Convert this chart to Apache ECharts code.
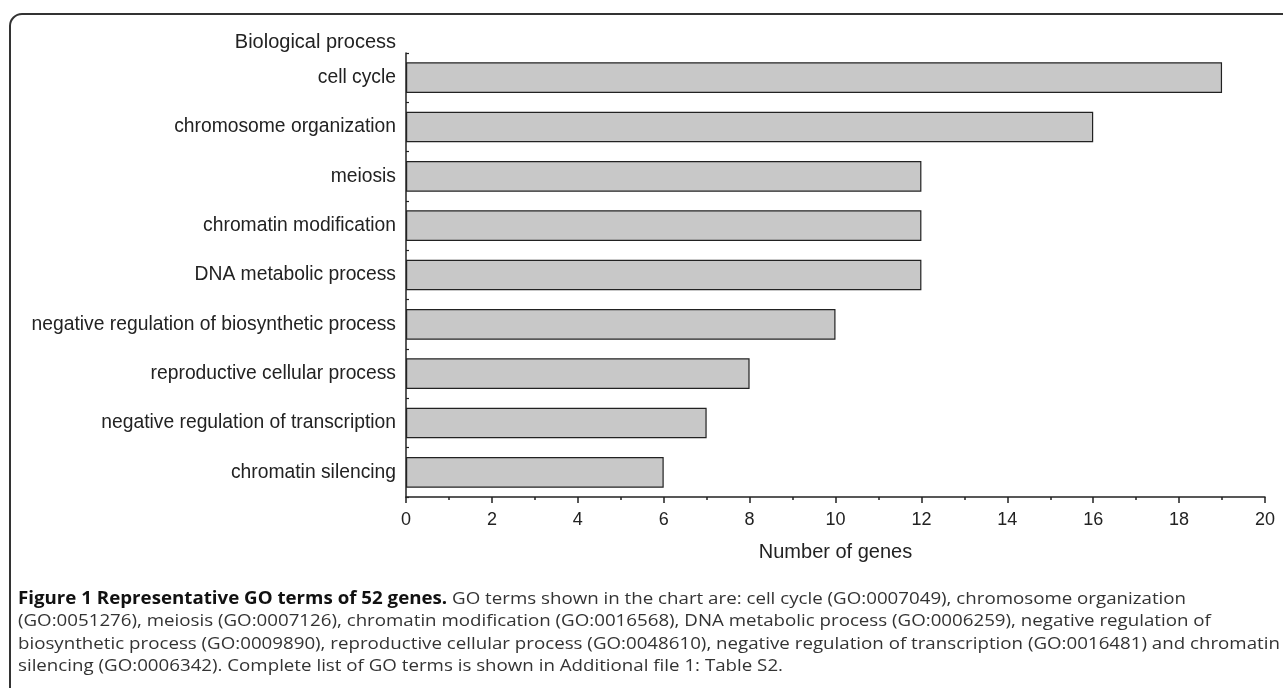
<!DOCTYPE html>
<html>
<head>
<meta charset="utf-8">
<script src="https://cdn.jsdelivr.net/npm/echarts@6/dist/echarts.min.js"></script>
<style>html,body{margin:0;padding:0;background:#fff;}#c{width:1283px;height:688px;}</style>
</head>
<body>
<div id="c"></div>
<script>
const categories = [
  "cell cycle",
  "chromosome organization",
  "meiosis",
  "chromatin modification",
  "DNA metabolic process",
  "negative regulation of biosynthetic process",
  "reproductive cellular process",
  "negative regulation of transcription",
  "chromatin silencing"
];
const geneCounts = [19, 16, 12, 12, 12, 10, 8, 7, 6];
const xTicks = [0, 2, 4, 6, 8, 10, 12, 14, 16, 18, 20];
const yAxisTitle = "Biological process";
const xAxisTitle = "Number of genes";
const captionBold = "Figure 1 Representative GO terms of 52 genes.";
const captionLines = [
  " GO terms shown in the chart are: cell cycle (GO:0007049), chromosome organization",
  "(GO:0051276), meiosis (GO:0007126), chromatin modification (GO:0016568), DNA metabolic process (GO:0006259), negative regulation of",
  "biosynthetic process (GO:0009890), reproductive cellular process (GO:0048610), negative regulation of transcription (GO:0016481) and chromatin",
  "silencing (GO:0006342). Complete list of GO terms is shown in Additional file 1: Table S2."
];

const chart = echarts.init(document.getElementById('c'));
const capFont = '"Open Sans", sans-serif';
const capSize = 17;
// horizontal squeeze/stretch of the caption font to approximate the original typeface width
const meas = document.createElement('canvas').getContext('2d');
meas.font = capSize + 'px "Open Sans"';
const capScale = 765 / meas.measureText(captionLines[3]).width;
const capY = [599, 621, 644, 666];
const labelFont = '"Liberation Sans", Arial, sans-serif';
const graphics = [
  {type:'rect', shape:{x:10, y:14, width:1300, height:720, r:12}, style:{fill:'none', stroke:'#333', lineWidth:2}, silent:true},
  {type:'text', x:396, y:42, style:{text:yAxisTitle, font:'20px ' + labelFont, fill:'#222', align:'right', verticalAlign:'middle'}},
  {type:'text', x:18, y:capY[0], scaleX:capScale, originX:0, style:{
    text:'{b|' + captionBold + '}{n|' + captionLines[0] + '}',
    verticalAlign:'middle',
    rich:{
      b:{font:'bold ' + capSize + 'px ' + capFont, fill:'#111'},
      n:{font:capSize + 'px ' + capFont, fill:'#333'}
    }
  }}
];
for (let i = 1; i < captionLines.length; i++) {
  graphics.push({type:'text', x:18, y:capY[i], scaleX:capScale, style:{text:captionLines[i], font:capSize + 'px ' + capFont, fill:'#333', verticalAlign:'middle'}});
}

chart.setOption({
  animation:false,
  grid:{left:406, right:18, top:53, bottom:191, containLabel:false},
  xAxis:{
    type:'value', min:0, max:20, interval:2,
    axisLine:{show:true, lineStyle:{color:'#222', width:1.5}},
    axisTick:{show:true, length:6, lineStyle:{color:'#222', width:1.5}},
    minorTick:{show:true, splitNumber:2, length:3, lineStyle:{color:'#222', width:1.5}},
    splitLine:{show:false},
    axisLabel:{fontFamily:labelFont, fontSize:18, color:'#222', margin:14,
      formatter:function(v){return xTicks.indexOf(v) >= 0 ? String(v) : '';}},
    name:xAxisTitle, nameLocation:'middle', nameGap:45,
    nameTextStyle:{fontFamily:labelFont, fontSize:20, color:'#222'}
  },
  yAxis:[{
    type:'category', inverse:true, data:categories,
    axisLine:{show:true, lineStyle:{color:'#222', width:1.5}},
    axisTick:{show:true, inside:true, length:3, alignWithLabel:true, lineStyle:{color:'#222', width:1.2}},
    axisLabel:{fontFamily:labelFont, fontSize:19.3, color:'#222', margin:10},
    splitLine:{show:false}
  },{
    type:'category', inverse:true, data:categories, position:'left',
    axisLine:{show:false},
    axisTick:{show:true, inside:true, length:3, lineStyle:{color:'#222', width:1.2}},
    axisLabel:{show:false},
    splitLine:{show:false}
  }],
  series:[{
    type:'bar', data:geneCounts, barWidth:'62%', yAxisIndex:0,
    itemStyle:{color:'#c8c8c8', borderColor:'#222', borderWidth:1.2},
    silent:true
  }],
  graphic:graphics
});
</script>
</body>
</html>
